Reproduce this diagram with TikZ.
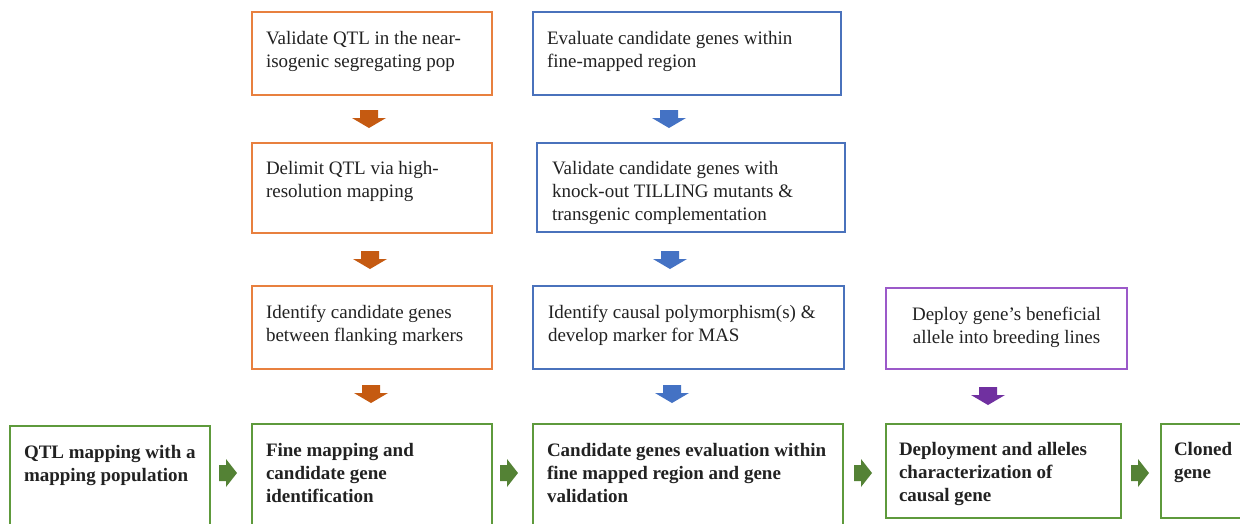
\documentclass[tikz,border=0pt]{standalone}
\usepackage{fontspec}
\setmainfont{Liberation Serif}
\definecolor{orangeB}{HTML}{E8803F}
\definecolor{orangeA}{HTML}{C55A11}
\definecolor{blueB}{HTML}{4A72BC}
\definecolor{blueA}{HTML}{4472C4}
\definecolor{purpleB}{HTML}{9B59C9}
\definecolor{purpleA}{HTML}{7030A0}
\definecolor{greenB}{HTML}{5E9A3C}
\definecolor{greenA}{HTML}{548235}
\definecolor{textc}{HTML}{222222}
\begin{document}
\begin{tikzpicture}[x=1pt,y=-1pt,
  box/.style={draw, line width=1.8pt, fill=white, inner sep=0pt, outer sep=0pt, anchor=north west},
  txt/.style={inner sep=0pt, outer sep=0pt, anchor=north west, align=left, text=textc, font=\fontsize{19}{23}\selectfont},
  btxt/.style={txt, font=\fontsize{19}{23}\selectfont\bfseries},
  pics/darr/.style={code={\fill[#1] (-9,-9)--(9,-9)--(9,-1)--(17,-1)--(0,9)--(-17,-1)--(-9,-1)--cycle;}},
  pics/rarr/.style={code={\fill[#1] (-9,-8)--(-2,-8)--(-2,-14)--(9,0)--(-2,14)--(-2,8)--(-9,8)--cycle;}}
]
\useasboundingbox (0,0) rectangle (1240,523);
\fill[white] (0,0) rectangle (1240,523);

% orange column
\node[box, draw=orangeB, minimum width=240pt, minimum height=83pt] (o1) at (252,12) {};
\node[txt] (o1t) at ([shift={(14,19)}]o1.north west) {Validate QTL in the near-\\isogenic segregating pop};
\node[box, draw=orangeB, minimum width=240pt, minimum height=90pt] (o2) at (252,143) {};
\node[txt] (o2t) at ([shift={(14,18)}]o2.north west) {Delimit QTL via high-\\resolution mapping};
\node[box, draw=orangeB, minimum width=240pt, minimum height=83pt] (o3) at (252,286) {};
\node[txt] (o3t) at ([shift={(14,19)}]o3.north west) {Identify candidate genes\\between flanking markers};

% blue column
\node[box, draw=blueB, minimum width=308pt, minimum height=83pt] (b1) at (533,12) {};
\node[txt] (b1t) at ([shift={(14,19)}]b1.north west) {Evaluate candidate genes within\\fine-mapped region};
\node[box, draw=blueB, minimum width=308pt, minimum height=89pt] (b2) at (537,143) {};
\node[txt] (b2t) at ([shift={(15,18)}]b2.north west) {Validate candidate genes with\\knock-out TILLING mutants \&\\transgenic complementation};
\node[box, draw=blueB, minimum width=311pt, minimum height=83pt] (b3) at (533,286) {};
\node[txt] (b3t) at ([shift={(15,19)}]b3.north west) {Identify causal polymorphism(s) \&\\develop marker for MAS};

% purple
\node[box, draw=purpleB, minimum width=241pt, minimum height=81pt] (p1) at (886,288) {};
\node[txt, anchor=north, align=center] (p1t) at ([shift={(0,19)}]p1.north) {Deploy gene’s beneficial\\allele into breeding lines};

% green row
\node[box, draw=greenB, minimum width=200pt, minimum height=110pt] (g1) at (10,426) {};
\node[btxt] (g1t) at ([shift={(14,19)}]g1.north west) {QTL mapping with a\\mapping population};
\node[box, draw=greenB, minimum width=240pt, minimum height=110pt] (g2) at (252,424) {};
\node[btxt] (g2t) at ([shift={(14,19)}]g2.north west) {Fine mapping and\\candidate gene\\identification};
\node[box, draw=greenB, minimum width=310pt, minimum height=110pt] (g3) at (533,424) {};
\node[btxt] (g3t) at ([shift={(14,19)}]g3.north west) {Candidate genes evaluation within\\fine mapped region and gene\\validation};
\node[box, draw=greenB, minimum width=235pt, minimum height=94pt] (g4) at (886,424) {};
\node[btxt] (g4t) at ([shift={(13,18)}]g4.north west) {Deployment and alleles\\characterization of\\causal gene};
\node[box, draw=greenB, minimum width=110pt, minimum height=94pt] (g5) at (1161,424) {};
\node[btxt] (g5t) at ([shift={(13,18)}]g5.north west) {Cloned\\gene};

% arrow positions
\coordinate (ao1) at (369,119);
\coordinate (ao2) at (370,260);
\coordinate (ao3) at (371,394);
\coordinate (ab1) at (669,119);
\coordinate (ab2) at (670,260);
\coordinate (ab3) at (672,394);
\coordinate (ap1) at (988,396);
\coordinate (ag1) at (228,473);
\coordinate (ag2) at (509,473);
\coordinate (ag3) at (863,473);
\coordinate (ag4) at (1140,473);

\pic at (ao1) {darr=orangeA};
\pic at (ao2) {darr=orangeA};
\pic at (ao3) {darr=orangeA};
\pic at (ab1) {darr=blueA};
\pic at (ab2) {darr=blueA};
\pic at (ab3) {darr=blueA};
\pic at (ap1) {darr=purpleA};
\pic at (ag1) {rarr=greenA};
\pic at (ag2) {rarr=greenA};
\pic at (ag3) {rarr=greenA};
\pic at (ag4) {rarr=greenA};
\end{tikzpicture}
\end{document}
